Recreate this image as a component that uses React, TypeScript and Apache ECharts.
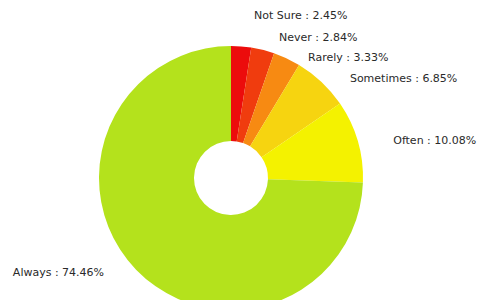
import React, { useEffect, useRef } from "react";
import * as echarts from "echarts";

const categories = ["Not Sure", "Never", "Rarely", "Sometimes", "Often", "Always"];
const percents = [2.45, 2.84, 3.33, 6.85, 10.08, 74.46];
const colors = ["#ec0c0c", "#f03c0e", "#f78a12", "#f6d410", "#f4f200", "#b4e21c"];
// label leader lengths (hidden lines), used only to place the labels
const leadLen = [30.5, 13, 1.5, 5.5, 1.5, 3.5];
const leadLen2 = [5.5, 8, 15.5, 19.5, 29, 24.5];

export default function App() {
  const ref = useRef<HTMLDivElement>(null);
  useEffect(() => {
    const chart = echarts.init(ref.current!, null, { renderer: "svg" });
    chart.setOption({
      animation: false,
      backgroundColor: "#ffffff",
      series: [
        {
          type: "pie",
          center: [231, 178],
          radius: [37, 132],
          startAngle: 90,
          clockwise: true,
          avoidLabelOverlap: false,
          data: categories.map((c, i) => ({
            name: c,
            value: percents[i],
            itemStyle: { color: colors[i] },
            labelLine: { length: leadLen[i], length2: leadLen2[i] },
          })),
          label: {
            show: true,
            position: "outside",
            overflow: "none",
            formatter: (p: any) => `${p.name} : ${percents[p.dataIndex].toFixed(2)}%`,
            fontFamily: "DejaVu Sans",
            fontSize: 11,
            color: "#2a2a2a",
          },
          labelLine: { show: false },
          emphasis: { disabled: true },
        },
      ],
    });
    return () => chart.dispose();
  }, []);
  return <div ref={ref} style={{ width: 480, height: 300, position: "absolute", left: 0, top: 0 }} />;
}
